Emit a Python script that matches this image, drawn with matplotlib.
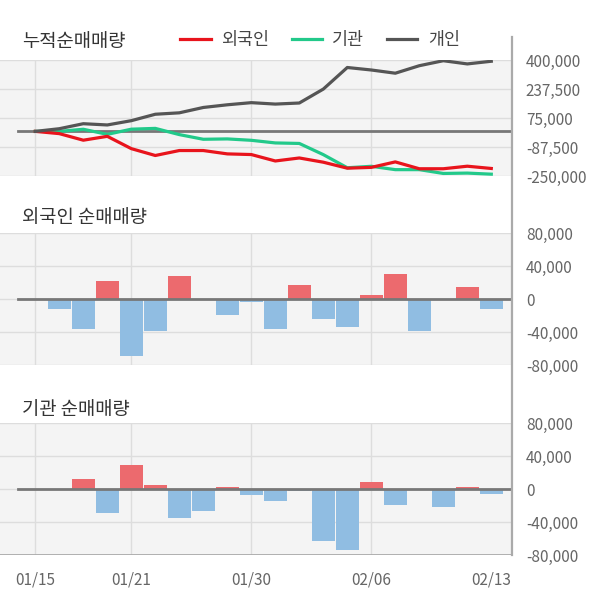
import matplotlib
matplotlib.use("Agg")
import matplotlib.pyplot as plt
import numpy as np
from matplotlib.lines import Line2D

plt.rcParams['font.family'] = ['Noto Sans CJK KR', 'DejaVu Sans']

# trading days (2020)
dates = ['01/15', '01/16', '01/17', '01/20', '01/21', '01/22', '01/23', '01/28',
         '01/29', '01/30', '01/31', '02/03', '02/04', '02/05', '02/06', '02/07',
         '02/10', '02/11', '02/12', '02/13']
tick_dates = ['01/15', '01/21', '01/30', '02/06', '02/13']
grid_dates = ['01/15', '01/21', '01/30', '02/06']

# daily net buying
foreign = [0, -12600, -36800, 21700, -69000, -38400, 27800, 0, -18800, -3700,
           -36000, 16800, -23700, -33500, 4500, 30700, -38400, 0, 14300, -12700]
institution = [0, 0, 11900, -28600, 29000, 4500, -34800, -26200, 2000, -7800,
               -14700, -2900, -62600, -73600, 8200, -18800, 0, -21300, 2000, -6100]
# cumulative individual
individual_cum = [0, 15000, 43000, 36000, 60000, 96000, 104000, 134000, 149000, 161000,
                  153000, 159000, 237000, 358000, 344000, 326000, 368000, 396000, 378000, 393000]

top_ticks = [400000, 237500, 75000, -87500, -250000]
bar_ticks = [80000, 40000, 0, -40000, -80000]

RED = '#e8141c'
GREEN = '#22c98a'
DARK = '#555555'
BAR_RED = '#ec6a6e'
BAR_BLUE = '#90bde2'
BG = '#f4f4f4'
GRID = '#dddddd'
TXT = '#666666'

W, H = 600, 604
RIGHT = 512
X0, STEP = 35.3, 24.0
fig = plt.figure(figsize=(W / 100, H / 100), dpi=100)

x = np.arange(len(dates))
xlim = (-X0 / STEP, (RIGHT - X0) / STEP)
zero_start = (18 - 0) / RIGHT
grid_x = [dates.index(d) for d in grid_dates]
tick_x = [dates.index(d) for d in tick_dates]


def make_axes(top, bottom):
    ax = fig.add_axes([0, 1 - bottom / H, RIGHT / W, (bottom - top) / H])
    ax.set_facecolor(BG)
    ax.set_xlim(*xlim)
    for s in ax.spines.values():
        s.set_visible(False)
    ax.yaxis.tick_right()
    ax.tick_params(axis='y', length=0, pad=10, labelsize=11, labelcolor=TXT)
    ax.tick_params(axis='x', length=0)
    ax.set_xticks([])
    for gx in grid_x:
        ax.axvline(gx, color=GRID, lw=1, zorder=0)
    return ax


def fmt(v):
    return f'{v:,.0f}'


# cumulative panel
ax1 = make_axes(60, 176)
ax1.set_ylim(-250000, 400000)
ax1.set_yticks(top_ticks)
ax1.set_yticklabels([fmt(v) for v in top_ticks])
for t in top_ticks:
    ax1.axhline(t, color=GRID, lw=1, zorder=0)
ax1.axhline(0, xmin=zero_start, color='#777777', lw=2, zorder=1)
l1, = ax1.plot(x, np.cumsum(foreign), color=RED, lw=2.3, zorder=3)
l2, = ax1.plot(x, np.cumsum(institution), color=GREEN, lw=2.3, zorder=2)
l3, = ax1.plot(x, individual_cum, color=DARK, lw=2.3, zorder=4)


def bar_panel(ax, vals):
    ax.set_ylim(-80000, 80000)
    ax.set_yticks(bar_ticks)
    ax.set_yticklabels([fmt(v) for v in bar_ticks])
    for t in bar_ticks:
        ax.axhline(t, color=GRID, lw=1, zorder=0)
    colors = [BAR_RED if v > 0 else BAR_BLUE for v in vals]
    ax.bar(x, vals, width=0.95, color=colors, zorder=2)
    ax.axhline(0, xmin=zero_start, color='#777777', lw=2, zorder=3)


ax2 = make_axes(233, 365)
bar_panel(ax2, foreign)

ax3 = make_axes(423, 555)
bar_panel(ax3, institution)
ax3.set_xticks(tick_x)
ax3.set_xticklabels(tick_dates)
ax3.tick_params(axis='x', length=0, pad=12, labelsize=11, labelcolor=TXT)
ax3.axhline(-80000, color='#aaaaaa', lw=2, zorder=4)

# right border line across panels
fig.add_artist(Line2D([RIGHT / W, RIGHT / W], [1 - 37 / H, 1 - 555 / H],
                      color='#aaaaaa', lw=1.6, transform=fig.transFigure))

# titles
fig.text(22 / W, 1 - 42 / H, '누적순매매량', fontsize=13.5, color='#333333', va='center')
fig.text(22 / W, 1 - 218 / H, '외국인 순매매량', fontsize=13.5, color='#333333', va='center')
fig.text(22 / W, 1 - 409 / H, '기관 순매매량', fontsize=13.5, color='#333333', va='center')

fig.legend([l1, l2, l3], ['외국인', '기관', '개인'], loc='center',
           bbox_to_anchor=(320 / W, 1 - 40 / H), ncol=3, frameon=False,
           fontsize=12.5, handlelength=1.75, handletextpad=0.6, columnspacing=1.3,
           labelcolor='#444444')

fig.savefig('out.png', dpi=100, facecolor='white')
